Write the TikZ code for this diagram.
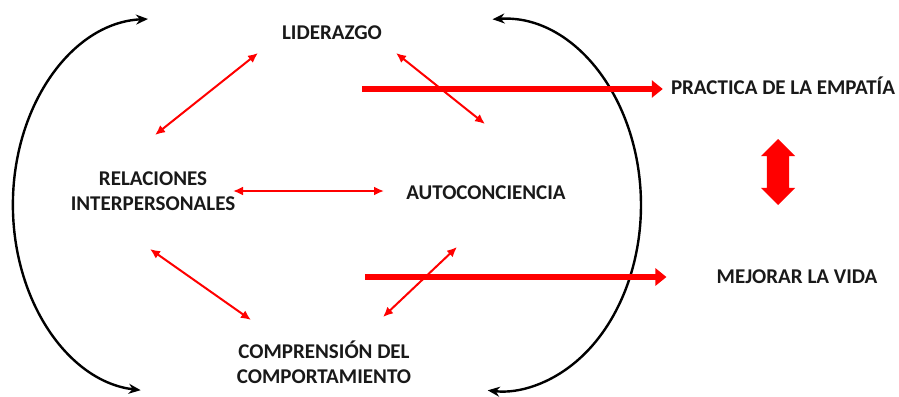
\documentclass[tikz,border=0pt]{standalone}
\usepackage{fontspec}
\setmainfont{Carlito}
\usetikzlibrary{arrows.meta,shapes.arrows}

\tikzset{lbl/.style={font=\bfseries\fontsize{21}{24.5}\selectfont, align=center, inner sep=0pt, text=black!90},
	link/.style={red, line width=2pt, {Latex[length=10pt,width=9pt]}-{Latex[length=10pt,width=9pt]}},
	thick link/.style={red, line width=6pt, -{Triangle[length=11pt,width=17pt]}},
	cycle arc/.style={black, line width=2.4pt, {Stealth[length=12pt,width=10pt]}-{Stealth[length=12pt,width=10pt]}}
}

\begin{document}
\begin{tikzpicture}[x=1pt, y=1pt]
	\useasboundingbox (0,0) rectangle (899,-396);
	\node[lbl] (lid) at (332,-33) {LIDERAZGO};
	\node[lbl] (rel) at (153,-191) {RELACIONES\\INTERPERSONALES};
	\node[lbl] (auto) at (486,-193) {AUTOCONCIENCIA};
	\node[lbl] (comp) at (324,-362) {COMPRENSIÓN DEL\\COMPORTAMIENTO};
	\node[lbl] (emp) at (783,-86) {PRACTICA DE LA EMPATÍA};
	\node[lbl] (vida) at (797,-277) {MEJORAR LA VIDA};
	\node[fill=red, double arrow, rotate=90, minimum height=66pt, inner xsep=0pt, inner ysep=11pt,
		double arrow head extend=6pt] (both) at (778,-172) {};

	% black cycle arcs
	\coordinate (lt) at (148,-19);
	\coordinate (rt) at (492.6,-19.3);
	\draw[cycle arc] (lt) arc[start angle=92, end angle=265, x radius=140, y radius=186];
	\draw[cycle arc] (rt) arc[start angle=93, end angle=-95, x radius=141, y radius=186];

	% red links
	\draw[link] ([shift={(-74,-20)}]lid.center) -- ([shift={(2,56)}]rel.center);
	\draw[link] ([shift={(64,-20)}]lid.center) -- ([shift={(-1,69)}]auto.center);
	\draw[link] ([shift={(80,0)}]rel.center) -- ([shift={(-102,2)}]auto.center);
	\draw[link] ([shift={(-3,-58)}]rel.center) -- ([shift={(-73,42)}]comp.center);
	\draw[link] ([shift={(-29,-54)}]auto.center) -- ([shift={(59,45)}]comp.center);

	\coordinate (s1) at (362,-89);
	\coordinate (s2) at (365,-277);
	\draw[thick link] (s1) -- (s1 -| emp.west) [shorten >=8pt];
	\draw[thick link] (s2) -- (s2 -| vida.west) [shorten >=50pt];
\end{tikzpicture}
\end{document}
